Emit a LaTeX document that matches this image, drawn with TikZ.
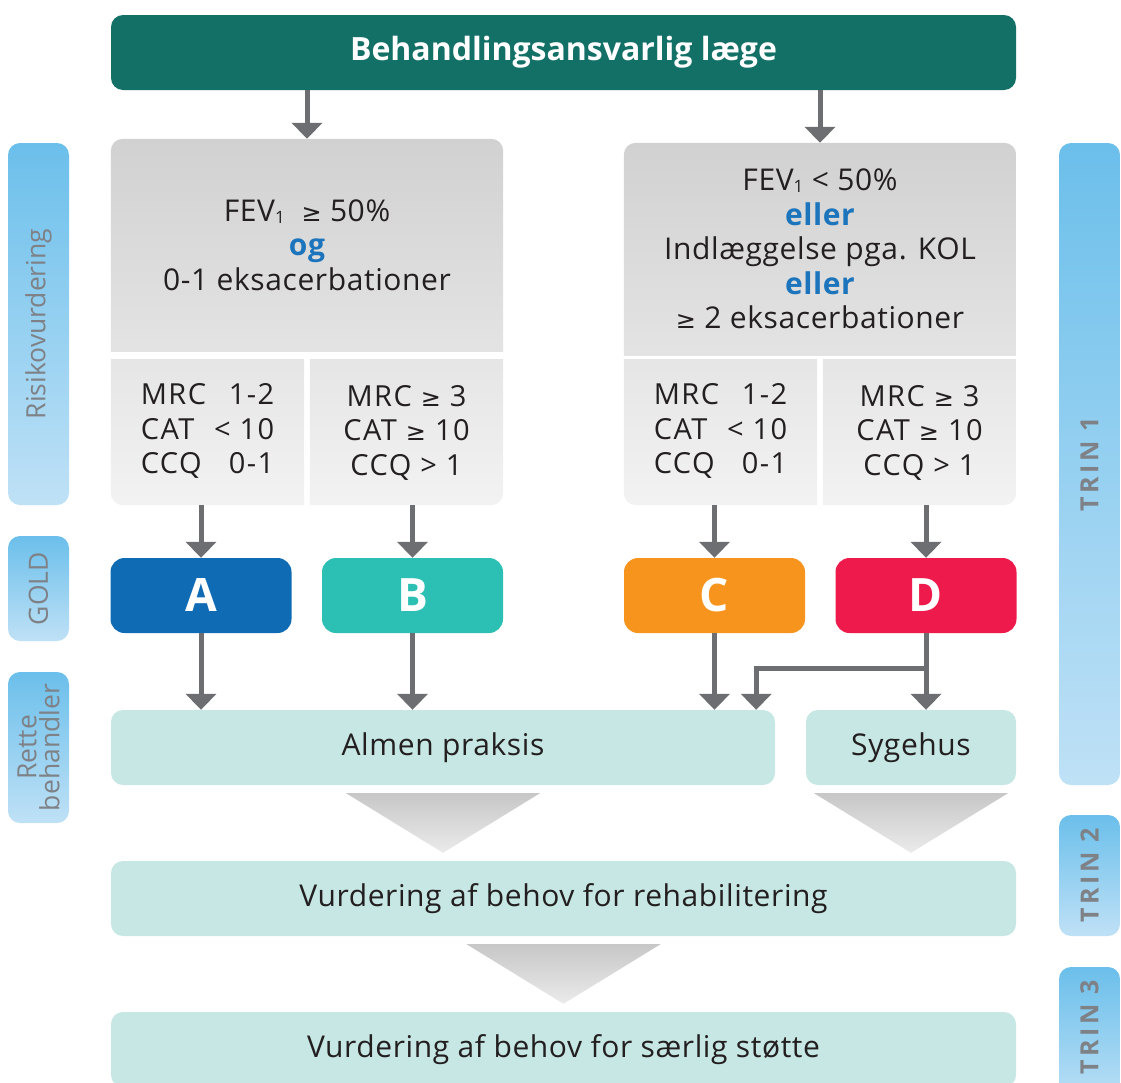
\documentclass[tikz,border=0pt]{standalone}
\usepackage{fontspec}
\setmainfont{Open Sans}
\newfontfamily\symfont{DejaVu Sans}
\usepackage{tikz}
\usetikzlibrary{arrows.meta,positioning,calc,backgrounds}
\definecolor{hdrgreen}{HTML}{137066}
\definecolor{ink}{HTML}{231F20}
\definecolor{altblue}{HTML}{1C75BC}
\definecolor{goldA}{HTML}{0E6BB4}
\definecolor{goldB}{HTML}{2CBFB3}
\definecolor{goldC}{HTML}{F7941D}
\definecolor{goldD}{HTML}{ED1A4B}
\definecolor{mint}{HTML}{C6E7E3}
\definecolor{arrowgrey}{HTML}{6D6E71}
\definecolor{pilltop}{HTML}{6BBFEB}
\definecolor{pillbot}{HTML}{BFE1F6}
\definecolor{pillink}{HTML}{7E8186}
\newcommand{\alt}[1]{{\color{altblue}\bfseries #1}}
\newcommand{\gsym}{{\symfont\fontsize{24pt}{30pt}\selectfont ≥}}
\newcommand{\sub}[1]{{\fontsize{17pt}{17pt}\selectfont\raisebox{-2pt}{#1}}}
\newcommand{\bodysize}{\fontsize{30pt}{34.5pt}\selectfont\addfontfeature{LetterSpace=2}}
\newcommand{\cellsize}{\fontsize{29pt}{34.5pt}\selectfont\addfontfeature{LetterSpace=5}}
\newcommand{\funnel}[2]{\shade[funnelshade] ($(#1.south)+(-97,8)$) -- ($(#1.south)+(97,8)$) -- ($(#1.south |- #2.north)+(0,-8)$) -- cycle;}
\newcommand{\greypanel}[4]{\begin{scope}\clip (#1.north west) rectangle (#1.south east);
  \shade[#2, rounded corners=12pt] ($(#1.north west)+#3$) rectangle ($(#1.south east)+#4$);\end{scope}}
\tikzset{
  hdrbox/.style={rectangle, rounded corners=12pt, fill=hdrgreen, text=white, inner sep=0pt,
                 minimum width=905pt, minimum height=75pt, font=\fontsize{32pt}{36pt}\selectfont\bfseries},
  cond/.style={rectangle, inner sep=0pt, minimum width=392pt, minimum height=212pt,
               align=center, text=ink, font=\bodysize},
  cell/.style={rectangle, inner sep=0pt, minimum width=193pt, minimum height=145pt,
               align=center, text=ink, font=\cellsize},
  goldbox/.style={rectangle, rounded corners=14pt, inner sep=0pt, minimum width=181pt,
                  minimum height=75pt, text=white, font=\fontsize{46pt}{50pt}\selectfont\bfseries},
  carebox/.style={rectangle, rounded corners=12pt, fill=mint, inner sep=0pt, minimum height=75pt,
                  text=ink, font=\bodysize},
  pill/.style={rectangle, rounded corners=12pt, top color=pilltop, bottom color=pillbot,
               minimum width=61pt, inner sep=0pt},
  pilllbl/.style={rotate=90, text=pillink, align=center, inner sep=0pt,
                  font=\fontsize{26.5pt}{23pt}\selectfont},
  trinlbl/.style={rotate=90, text=pillink, inner sep=0pt,
                  font=\fontsize{25pt}{30pt}\selectfont\bfseries\addfontfeature{LetterSpace=14}},
  panelshade/.style={top color=black!18, bottom color=black!10},
  cellshade/.style={top color=black!11, bottom color=black!5},
  funnelshade/.style={top color=black!22, bottom color=black!8},
  flow/.style={-{Triangle[width=30pt,length=16pt]}, draw=arrowgrey, line width=5pt}
}

\begin{document}
\begin{tikzpicture}[x=1pt,y=-1pt]
\useasboundingbox (0,0) rectangle (1121,1082);

% --- header and risk panels
\node[hdrbox] (hdr) at (563.5,52.5) {Behandlingsansvarlig læge};
\node[cond] (lowrisk) at (307,245) {FEV\sub{1}~~\gsym{} 50\%\\\alt{og}\\0-1 eksacerbationer};
\node[cond] (highrisk) at (820,249) {FEV\sub{1} < 50\%\\\alt{eller}\\Indlæggelse pga. KOL\\\alt{eller}\\\gsym{} 2 eksacerbationer};

% --- symptom cells
\node[cell] (cellA) at (207.5,432.5)
  {\begin{tabular}{@{}l@{\hspace{8pt}}r@{}}MRC & 1-2\\CAT & < 10\\CCQ & 0-1\end{tabular}};
\node[cell] (cellB) at (406.5,432.5) {MRC \gsym{} 3\\CAT \gsym{} 10\\CCQ > 1};
\node[cell] (cellC) at (720.5,432.5)
  {\begin{tabular}{@{}l@{\hspace{8pt}}r@{}}MRC & 1-2\\CAT & < 10\\CCQ & 0-1\end{tabular}};
\node[cell] (cellD) at (919.5,432.5) {MRC \gsym{} 3\\CAT \gsym{} 10\\CCQ > 1};

% --- GOLD groups
\node[goldbox, fill=goldA] (A) at (201,595.5) {A};
\node[goldbox, fill=goldB] (B) at (412.5,595.5) {B};
\node[goldbox, fill=goldC] (C) at (714.5,595.5) {C};
\node[goldbox, fill=goldD] (D) at (926,595.5) {D};

% --- care level and later steps
\node[carebox, minimum width=664pt] (almen) at (443,747.5) {Almen praksis};
\node[carebox, minimum width=210pt] (syge) at (911,747.5) {Sygehus};
\node[carebox, minimum width=905pt] (rehab) at (563.5,898.5) {Vurdering af behov for rehabilitering};
\node[carebox, minimum width=905pt] (support) at (563.5,1049.5) {Vurdering af behov for særlig støtte};

% --- side pills
\node[pill, minimum height=362pt] (pRisk) at (38.5,324) {};
\node[pill, minimum height=105pt] (pGold) at (38.5,588.5) {};
\node[pill, minimum height=151pt] (pRette) at (38.5,747.5) {};
\node[pill, minimum height=642pt] (pT1) at (1089.5,464) {};
\node[pill, minimum height=121pt] (pT2) at (1089.5,875.5) {};
\node[pill, minimum height=140pt] (pT3) at (1089.5,1037) {};
\node[pilllbl] at (pRisk) {Risikovurdering};
\node[pilllbl] at (pGold) {GOLD};
\node[pilllbl] at (pRette) {Rette\\behandler};
\node[trinlbl] at (pT1) {TRIN 1};
\node[trinlbl] at (pT2) {TRIN 2};
\node[trinlbl] at (1089.5,1027) {TRIN 3};

% --- grey panels behind the criteria
\begin{scope}[on background layer]
  \greypanel{lowrisk}{panelshade}{(0,0)}{(0,25)}
  \greypanel{highrisk}{panelshade}{(0,0)}{(0,25)}
  \greypanel{cellA}{cellshade}{(0,-30)}{(40,0)}
  \greypanel{cellB}{cellshade}{(-40,-30)}{(0,0)}
  \greypanel{cellC}{cellshade}{(0,-30)}{(40,0)}
  \greypanel{cellD}{cellshade}{(-40,-30)}{(0,0)}
\end{scope}

\draw[flow] (hdr.south -| lowrisk.north) -- (lowrisk.north);
\draw[flow] (hdr.south -| highrisk.north) -- (highrisk.north);
\draw[flow] (cellA.south -| A.north) -- (A.north);
\draw[flow] (cellB.south -| B.north) -- (B.north);
\draw[flow] (cellC.south -| C.north) -- (C.north);
\draw[flow] (cellD.south -| D.north) -- (D.north);
\draw[flow] (A.south) -- (A.south |- almen.north);
\draw[flow] (B.south) -- (B.south |- almen.north);
\draw[flow] (C.south) -- (C.south |- almen.north);
\draw[flow] (D.south) -- (D.south |- syge.north);
\coordinate (split) at ($(D.south)+(0,35)$);
\draw[flow] (split) -| ($(almen.north east)+(-19,0)$);

\funnel{almen}{rehab}
\funnel{syge}{rehab}
\funnel{rehab}{support}
\end{tikzpicture}
\end{document}
